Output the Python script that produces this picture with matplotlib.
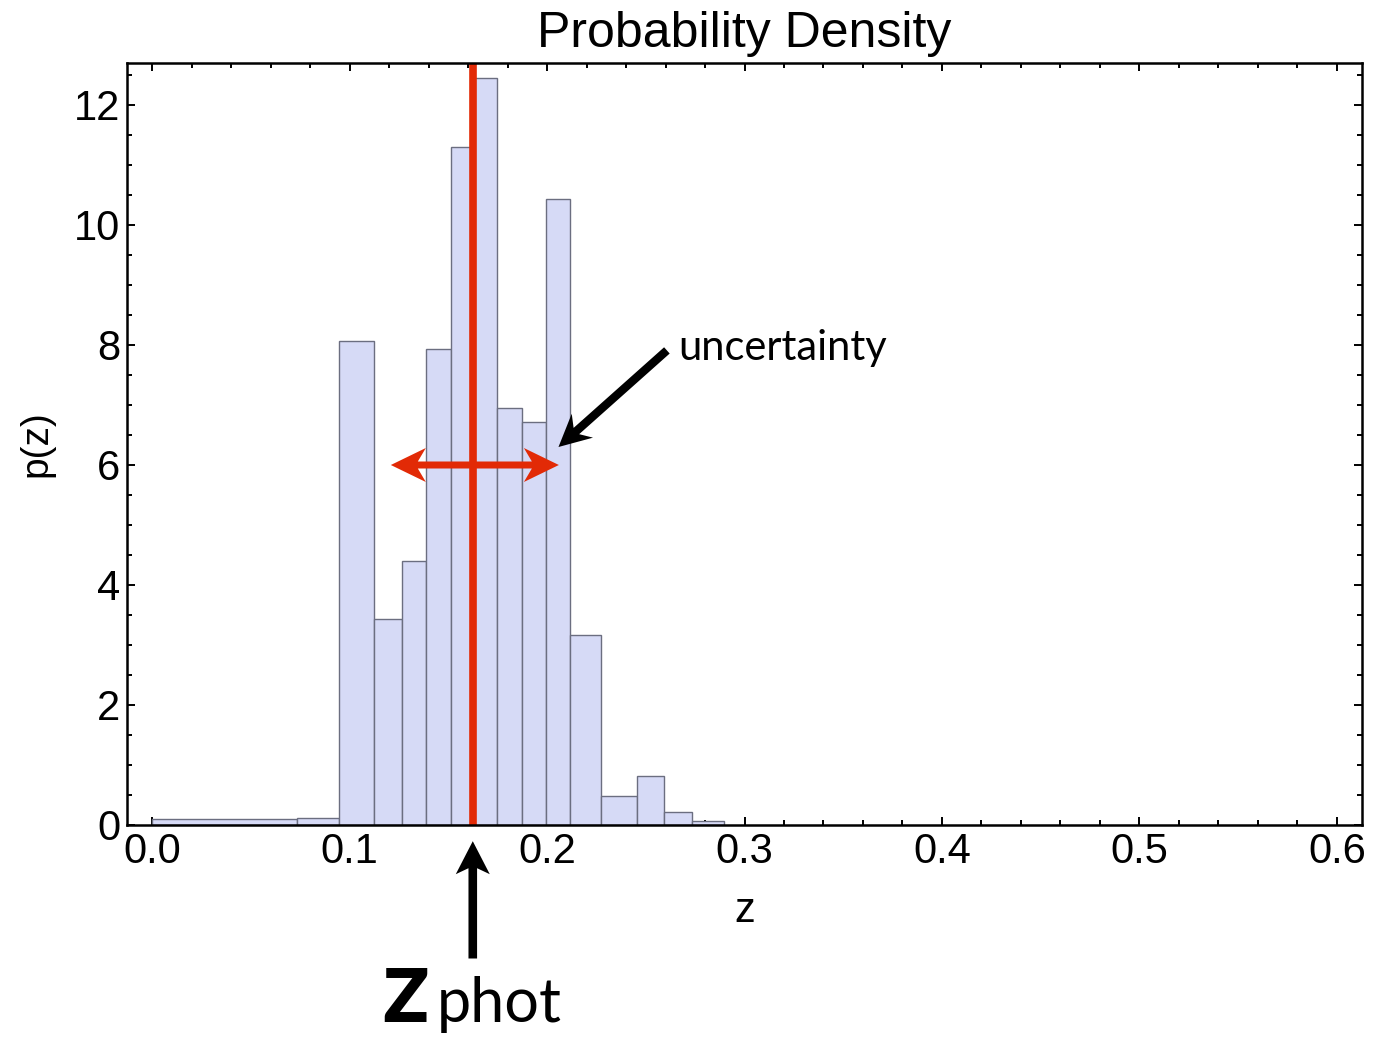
import numpy as np
import matplotlib
matplotlib.use("Agg")
import matplotlib.pyplot as plt
from matplotlib.patches import Polygon
from matplotlib.ticker import MultipleLocator

# ---- data ----
bin_edges = [0.0, 0.0732, 0.0948, 0.1124, 0.1266, 0.1387, 0.1512, 0.1625,
             0.1749, 0.1872, 0.1995, 0.2117, 0.2271, 0.2458, 0.2593, 0.2734, 0.2894]
densities = [0.10, 0.11, 8.06, 3.44, 4.40, 7.93, 11.30, 12.45,
             6.95, 6.72, 10.44, 3.175, 0.48, 0.81, 0.21, 0.06]
z_phot = 0.1624
unc_lo, unc_hi, unc_y = 0.1209, 0.2060, 6.0
x_ticks = [0.0, 0.1, 0.2, 0.3, 0.4, 0.5, 0.6]
y_ticks = [0, 2, 4, 6, 8, 10, 12]

W, H, DPI = 1392, 1045, 100
fig = plt.figure(figsize=(W / DPI, H / DPI), dpi=DPI)
ax = fig.add_axes([127 / W, 1 - 825 / H, (1362 - 127) / W, (825 - 63) / H])

widths = np.diff(bin_edges)
ax.bar(bin_edges[:-1], densities, width=widths, align="edge",
       color="#d6daf6", edgecolor="#6b6e80", linewidth=1.0, zorder=2)

red = "#e22a06"
ax.axvline(z_phot, color=red, lw=5.5, zorder=3)

ax.set_xlim(-0.0127, 0.6127)
ax.set_ylim(0, 12.7)

ax.xaxis.set_major_locator(MultipleLocator(0.1))
ax.xaxis.set_minor_locator(MultipleLocator(0.02))
ax.yaxis.set_major_locator(MultipleLocator(2))
ax.yaxis.set_minor_locator(MultipleLocator(0.5))
ax.set_xticks(x_ticks)
ax.set_yticks(y_ticks)
ax.set_xticklabels([f"{v:.1f}" for v in x_ticks])
ax.set_yticklabels([str(v) for v in y_ticks])
ax.tick_params(which="both", direction="in", top=True, right=True, width=1.4, color="black")
ax.tick_params(which="major", length=6)
ax.tick_params(which="minor", length=3.6)
ax.tick_params(axis="x", which="major", labelsize=30, pad=5)
ax.tick_params(axis="y", which="major", labelsize=30, pad=5)
for lab in ax.get_xticklabels() + ax.get_yticklabels():
    lab.set_fontfamily("Liberation Sans")
for s in ax.spines.values():
    s.set_linewidth(1.8)
    s.set_zorder(5)

ax.set_xlabel("z", fontsize=30, family="Liberation Sans")
ax.xaxis.set_label_coords(0.5, -0.087)
ax.set_ylabel("p(z)", fontsize=28, family="Liberation Sans")
ax.yaxis.set_label_coords(-0.059, 0.5)
ax.text(0.5, 1.021, "Probability Density", transform=ax.transAxes, ha="center",
        va="baseline", fontsize=36, family="Liberation Sans")

fig.canvas.draw()


def arrow_poly(p0, p1, shaft_w, head_l, head_w, notch, both=False, **kw):
    """Notched arrow polygon, sizes in pixels; p0, p1 in data coords."""
    a = ax.transData.transform(p0)
    b = ax.transData.transform(p1)
    u = (b - a) / np.hypot(*(b - a))
    n = np.array([-u[1], u[0]])
    pts = []
    if both:
        pts += [a + u * (head_l - notch) + n * shaft_w,
                a + u * head_l + n * head_w, a,
                a + u * head_l - n * head_w,
                a + u * (head_l - notch) - n * shaft_w]
    else:
        pts += [a - n * shaft_w]
    pts += [b - u * (head_l - notch) - n * shaft_w,
            b - u * head_l - n * head_w, b,
            b - u * head_l + n * head_w,
            b - u * (head_l - notch) + n * shaft_w]
    if not both:
        pts += [a + n * shaft_w]
    poly = Polygon(np.array(pts), closed=True, transform=None, clip_on=False, **kw)
    fig.add_artist(poly)


# uncertainty double arrow
arrow_poly((unc_lo, unc_y), (unc_hi, unc_y), 3.5, 35, 17, 8, both=True,
           facecolor=red, edgecolor="none", zorder=6)
# black arrow to uncertainty
arrow_poly((0.2607, 7.91), (0.2058, 6.30), 4.2, 32, 16, 8,
           facecolor="black", edgecolor="none", zorder=6)
ax.text(0.2664, 7.75, "uncertainty", fontsize=30, family="Lato", ha="left", va="baseline")

# z_phot arrow
arrow_poly((z_phot, -2.225), (z_phot, -0.27), 4.3, 33, 17, 6,
           facecolor="black", edgecolor="none", zorder=6)
ax.text(0.1160, -3.29, "z", fontsize=76, family="Lato", weight="bold",
        ha="left", va="baseline", clip_on=False)
ax.text(0.1444, -3.29, "phot", fontsize=44, family="Lato",
        ha="left", va="baseline", clip_on=False)

fig.savefig("out.png", dpi=DPI)
